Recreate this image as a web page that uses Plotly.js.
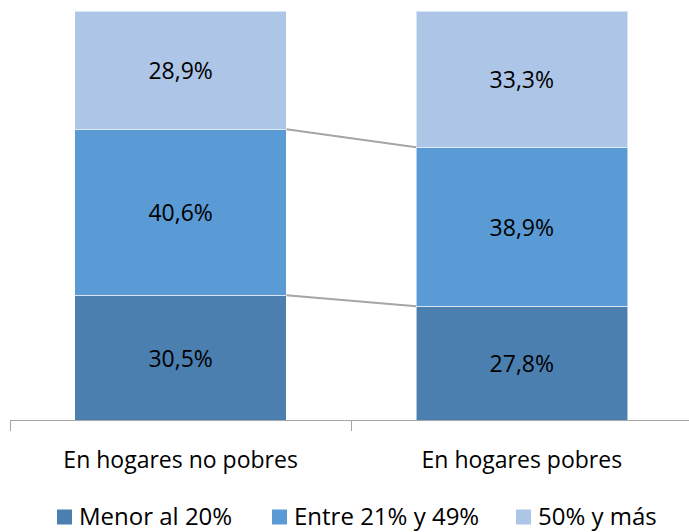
<!DOCTYPE html>
<html><head><meta charset="utf-8">
<script src="https://cdn.plot.ly/plotly-3.0.1.min.js"></script>
<style>html,body{margin:0;padding:0;background:#fff}</style>
</head><body>
<div id="chart" style="width:689px;height:532px"></div>
<script>
var categories = ["En hogares no pobres", "En hogares pobres"];
var seriesNames = ["Menor al 20%", "Entre 21% y 49%", "50% y más"];
var menor20 = [30.5, 27.8];
var entre21_49 = [40.6, 38.9];
var mas50 = [28.9, 33.3];
var seriesValues = [menor20, entre21_49, mas50];
var colors = ["#4a7fb0", "#5a9bd5", "#adc6e7"];

var xPos = categories.map(function(c, i){ return i; });
var barWidth = 0.62;
var fontFam = "'Open Sans', 'Noto Sans', sans-serif";

function fmt(v){ return v.toFixed(1).replace('.', ',') + '%'; }

var traces = [];
seriesValues.forEach(function(vals, s){
  traces.push({
    type: 'bar', x: xPos, y: vals, name: seriesNames[s],
    width: barWidth, showlegend: false,
    marker: {color: colors[s], line: {color: 'rgba(255,255,255,0.55)', width: 1}},
    text: vals.map(fmt), textposition: 'inside', insidetextanchor: 'middle',
    textfont: {family: fontFam, size: 23, color: '#000'},
    hoverinfo: 'none'
  });
});

// series connector lines at the cumulative boundaries
var cum = [0, 0];
for (var s = 0; s < seriesValues.length - 1; s++) {
  cum = cum.map(function(c, i){ return c + seriesValues[s][i]; });
  traces.push({
    type: 'scatter', mode: 'lines', showlegend: false, hoverinfo: 'none',
    x: [xPos[0] + barWidth/2, xPos[1] - barWidth/2],
    y: cum.slice(),
    line: {color: '#a5a5a5', width: 2}
  });
}

// dummy trace on xaxis2 for labels
traces.push({type:'scatter', x: xPos, y:[null,null], xaxis:'x2', showlegend:false, hoverinfo:'none'});

// manual legend (pixel layout -> paper coords)
var plotL = 10, plotW = 679, plotT = 11, plotH = 409;
function px2x(p){ return (p - plotL) / plotW; }
function py2y(p){ return (plotT + plotH - p) / plotH; }
var legendSquareX = [57, 272, 516];
var legendY = 515, sq = 15;
var shapes = [], annotations = [];
seriesNames.forEach(function(n, i){
  shapes.push({type:'rect', xref:'paper', yref:'paper',
    x0: px2x(legendSquareX[i]), x1: px2x(legendSquareX[i] + sq),
    y0: py2y(legendY + 2 + sq/2), y1: py2y(legendY + 2 - sq/2),
    fillcolor: colors[i], line: {width: 0}});
  annotations.push({xref:'paper', yref:'paper', x: px2x(legendSquareX[i] + sq + 6), y: py2y(legendY),
    xanchor:'left', yanchor:'middle', text: n, showarrow:false, borderpad: 0,
    font: {family: fontFam, size: 24, color: '#000'}});
});

var xr = [-0.5, 1.49];
var layout = {
  width: 689, height: 532,
  margin: {l: plotL, r: 0, t: plotT, b: 532 - plotT - plotH},
  barmode: 'stack',
  paper_bgcolor: '#fff', plot_bgcolor: '#fff',
  showlegend: false,
  shapes: shapes, annotations: annotations,
  xaxis: {range: xr, tickvals: [-0.5, 0.5, 1.5], ticktext: ['', '', ''], ticks: 'outside',
          ticklen: 10, tickcolor: '#a6a6a6', showline: true, linecolor: '#a6a6a6', linewidth: 1,
          showgrid: false, zeroline: false, fixedrange: true},
  xaxis2: {range: xr, overlaying: 'x', side: 'bottom', tickvals: xPos, ticktext: categories,
           ticks: 'outside', ticklen: 19, tickcolor: 'rgba(0,0,0,0)', showline: false, showgrid: false,
           zeroline: false, tickfont: {family: fontFam, size: 23, color: '#000'}},
  yaxis: {range: [0, 100], visible: false, showgrid: false, zeroline: false}
};
Plotly.newPlot('chart', traces, layout, {staticPlot: true, displayModeBar: false});
</script>
</body></html>
